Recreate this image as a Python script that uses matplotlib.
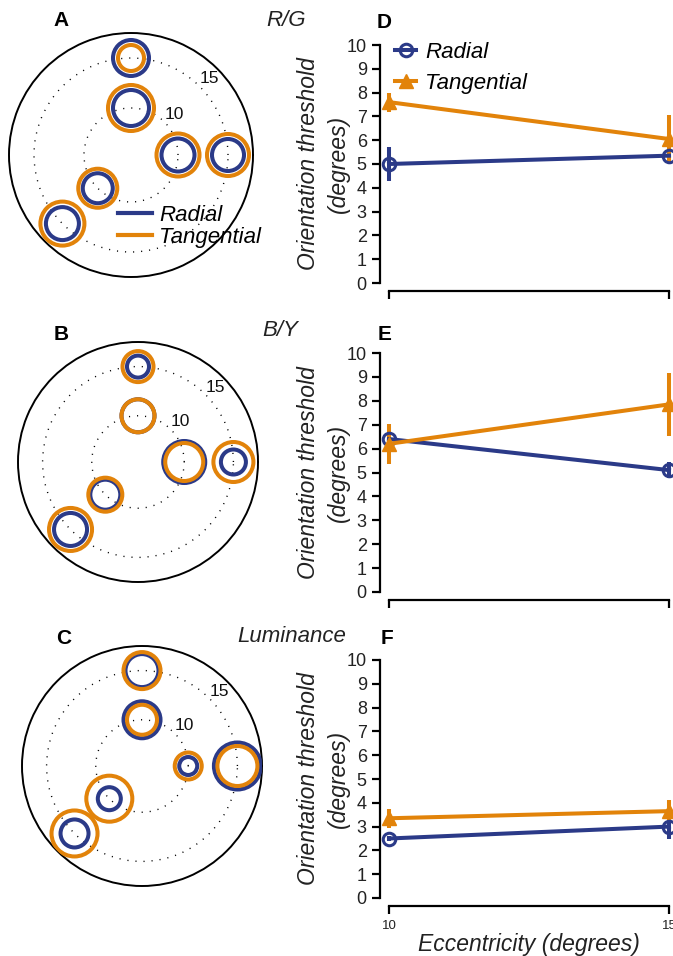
import numpy as np
import matplotlib
matplotlib.use("Agg")
from matplotlib import pyplot as plt
from matplotlib.lines import Line2D

plt.rcParams['font.family'] = ['Liberation Sans', 'DejaVu Sans']

BLUE = '#2b3a88'
ORANGE = '#e2830a'

# patch locations in the visual field (polar angle deg, eccentricity deg)
patch_angle = [90, 90, 0, 0, 225, 225]
patch_ecc = [15, 10, 10, 15, 10, 15]

# ring diameters (px) drawn at each location, same order as above
rg_radial = [36, 36, 33, 32, 30, 33]
rg_tangential = [26, 46, 43, 42, 39, 44]
by_radial = [22, 33, 42, 25, 30, 33]
by_tangential = [31, 33, 38, 40, 34, 43]
lum_radial = [33, 37, 18, 47, 23, 28]
lum_tangential = [37, 30, 27, 40, 46, 46]

# orientation thresholds vs eccentricity
ecc = [10, 15]
rg_rad = [5.0, 5.35]
rg_rad_err = [0.72, 0.1]
rg_tan = [7.6, 6.05]
rg_tan_err = [0.4, 1.0]
by_rad = [6.4, 5.1]
by_rad_err = [0.1, 0.35]
by_tan = [6.2, 7.85]
by_tan_err = [0.85, 1.33]
lum_rad = [2.5, 3.0]
lum_rad_err = [0.1, 0.5]
lum_tan = [3.35, 3.65]
lum_tan_err = [0.4, 0.45]

W, H = 673, 956
fig = plt.figure(figsize=(W / 100, H / 100), dpi=100)


def px_rect(x0, y0, x1, y1):
    return [x0 / W, 1 - y1 / H, (x1 - x0) / W, (y1 - y0) / H]


def polar_panel(cx, cy, R, rad, tan, legend=False):
    ax = fig.add_axes(px_rect(cx - R, cy - R, cx + R, cy + R), projection='polar')
    ax.set_ylim(5.3, 17.5)
    th = np.deg2rad(patch_angle)
    ax.scatter(th, patch_ecc, s=(np.array(rad) * 0.72) ** 2, facecolors='none',
               edgecolors=BLUE, linewidths=2.9, zorder=3)
    ax.scatter(th, patch_ecc, s=(np.array(tan) * 0.72) ** 2, facecolors='none',
               edgecolors=ORANGE, linewidths=2.9, zorder=4)
    ax.set_xticks([])
    ax.set_rticks([10, 15])
    ax.set_rlabel_position(45)
    ax.yaxis.grid(True, color='k', linestyle=(0, (0.8, 5)), linewidth=1.0)
    ax.tick_params(axis='y', labelsize=12.5, labelcolor='#111111')
    ax.spines['polar'].set_linewidth(1.4)
    if legend:
        h = [Line2D([], [], color=BLUE, lw=3), Line2D([], [], color=ORANGE, lw=3)]
        ax.legend(h, ['Radial', 'Tangential'], loc='upper left',
                  bbox_to_anchor=(118 / W, 1 - 205 / H), bbox_transform=fig.transFigure,
                  frameon=False, prop={'style': 'italic', 'size': 16},
                  handlelength=1.55, handletextpad=0.3, labelspacing=0.05,
                  borderpad=0, borderaxespad=0)
    return ax


def line_panel(y_top, y_bot, rad, rad_err, tan, tan_err, xlabels=False, legend=False):
    ax = fig.add_axes(px_rect(389, y_top, 669, y_bot))
    c1 = ax.errorbar(ecc, rad, yerr=rad_err, color=BLUE, lw=2.9, elinewidth=2.9,
                     marker='o', ms=9, mfc='none', mec=BLUE, mew=2.2, capsize=0)
    c2 = ax.errorbar(ecc, tan, yerr=tan_err, color=ORANGE, lw=2.9, elinewidth=2.9,
                     marker='^', ms=10.5, mfc=ORANGE, mec=ORANGE, capsize=0)
    for c in (c1, c2):
        for a in c.get_children():
            a.set_clip_on(False)
    ax.set_xlim(10, 15)
    ax.set_ylim(0, 10)
    ax.set_yticks(range(0, 11))
    ax.set_xticks(ecc)
    for s in ['top', 'right']:
        ax.spines[s].set_visible(False)
    ax.spines['left'].set_position(('outward', 6.5))
    ax.spines['bottom'].set_position(('outward', 6))
    for s in ['left', 'bottom']:
        ax.spines[s].set_linewidth(1.6)
    ax.tick_params(axis='y', labelsize=13, length=6, width=1.6, labelcolor='#222222')
    ax.tick_params(axis='x', labelsize=9.5, length=6, width=1.6, labelcolor='#222222',
                   labelbottom=xlabels)
    ax.set_ylabel('Orientation threshold\n(degrees)', fontsize=16.5, style='italic',
                  linespacing=1.35, color='#222222')
    ax.yaxis.set_label_coords(-0.14, 0.5)
    if xlabels:
        ax.set_xlabel('Eccentricity (degrees)', fontsize=16.5, style='italic', color='#222222')
        ax.xaxis.set_label_coords(0.5, -0.145)
    if legend:
        h = [Line2D([], [], color=BLUE, lw=2.9, marker='o', ms=9, mfc='none', mew=2.2),
             Line2D([], [], color=ORANGE, lw=2.9, marker='^', ms=10.5)]
        ax.legend(h, ['Radial', 'Tangential'], loc='upper left',
                  bbox_to_anchor=(395 / W, 1 - 42 / H), bbox_transform=fig.transFigure,
                  frameon=False, prop={'style': 'italic', 'size': 16},
                  handlelength=0.95, handletextpad=0.4, labelspacing=0.45,
                  borderpad=0, borderaxespad=0)
    return ax


polar_panel(131, 155, 122, rg_radial, rg_tangential, legend=True)
polar_panel(138, 462, 120, by_radial, by_tangential)
polar_panel(142, 766, 120, lum_radial, lum_tangential)

line_panel(45, 283, rg_rad, rg_rad_err, rg_tan, rg_tan_err, legend=True)
line_panel(353, 592, by_rad, by_rad_err, by_tan, by_tan_err)
line_panel(660, 898, lum_rad, lum_rad_err, lum_tan, lum_tan_err, xlabels=True)

# panel letters and condition titles
for letter, x, y in [('A', 61, 21), ('B', 61, 334), ('C', 64, 638),
                     ('D', 384, 23), ('E', 385, 334), ('F', 387, 638)]:
    fig.text(x / W, 1 - y / H, letter, fontsize=15, fontweight='bold',
             ha='center', va='center')
for title, x, y in [('R/G', 286, 21), ('B/Y', 280, 331), ('Luminance', 292, 636)]:
    fig.text(x / W, 1 - y / H, title, fontsize=16, style='italic',
             ha='center', va='center', color='#222222')

fig.savefig('out.png', dpi=100)
